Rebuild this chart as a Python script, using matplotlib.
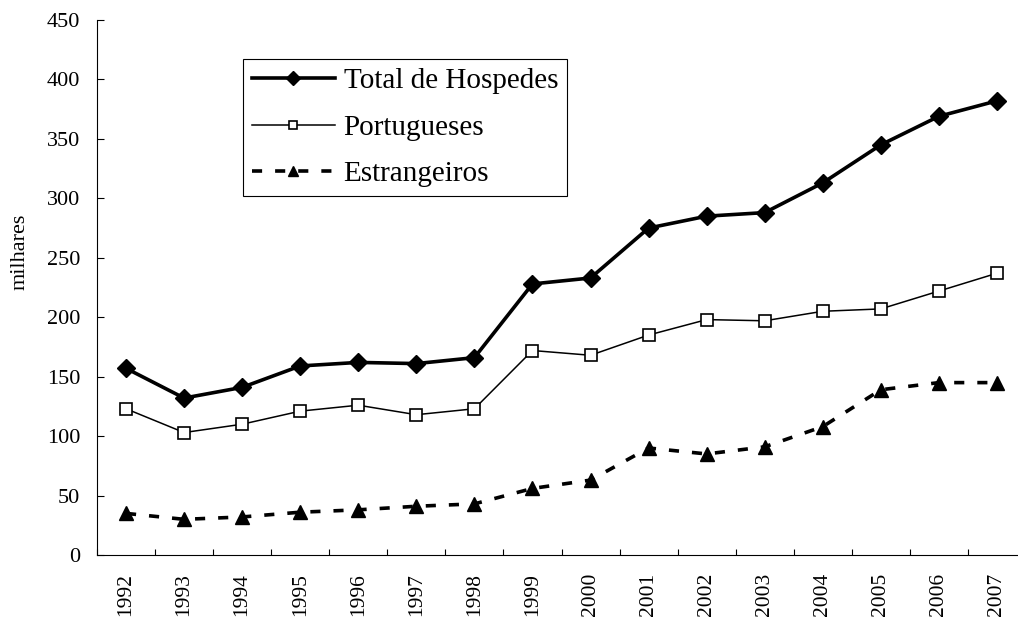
import matplotlib
matplotlib.use("Agg")
import matplotlib.pyplot as plt
import numpy as np

years = ["1992", "1993", "1994", "1995", "1996", "1997", "1998", "1999",
         "2000", "2001", "2002", "2003", "2004", "2005", "2006", "2007"]
total = [157, 132, 141, 159, 162, 161, 166, 228, 233, 275, 285, 288, 313, 345, 369, 382]
portugueses = [123, 103, 110, 121, 126, 118, 123, 172, 168, 185, 198, 197, 205, 207, 222, 237]
estrangeiros = [35, 30, 32, 36, 38, 41, 43, 56, 63, 90, 85, 91, 108, 139, 145, 145]
yticks = [0, 50, 100, 150, 200, 250, 300, 350, 400, 450]

plt.rcParams['font.family'] = ['Liberation Serif', 'DejaVu Serif']

fig = plt.figure(figsize=(10.18, 6.23), dpi=100)
ax = fig.add_axes([97/1018, 1-555/623, 929/1018, 535/623])

x = np.arange(len(years))
ax.plot(x, total, color='black', lw=2.6, marker='D', ms=9, mfc='black', mec='black',
        label='Total de Hospedes')
ax.plot(x, portugueses, color='black', lw=1.1, marker='s', ms=8.5, mfc='white', mec='black',
        mew=1.2, label='Portugueses')
ax.plot(x, estrangeiros, color='black', lw=2.6, dashes=(2.8, 3.6), marker='^', ms=10,
        mfc='black', mec='black', label='Estrangeiros')

ax.set_xlim(-0.5, len(years) - 0.5)
ax.set_ylim(0, 450)
ax.set_yticks(yticks)
ax.set_yticklabels([str(v) for v in yticks])
ax.set_xticks(x)
ax.set_xticklabels(years, rotation=90)
ax.set_xticks(np.arange(-0.5, len(years)), minor=True)

ax.tick_params(axis='x', which='major', length=0, pad=13, labelsize=15.5)
ax.tick_params(axis='x', which='minor', length=4.5, width=0.8, direction='in')
ax.tick_params(axis='y', which='major', length=5, width=0.8, direction='in', pad=12, labelsize=16)

for s in ['top', 'right']:
    ax.spines[s].set_visible(False)
for s in ['left', 'bottom']:
    ax.spines[s].set_linewidth(0.8)

ax.set_ylabel('milhares', fontsize=16)
ax.yaxis.set_label_coords(-0.073, 0.566)

leg = ax.legend(loc='center', bbox_to_anchor=(0.3315, 0.799), fontsize=21,
                frameon=True, fancybox=False, framealpha=1, edgecolor='black',
                handlelength=2.85, handletextpad=0.3, labelspacing=0.69,
                borderpad=0.3, borderaxespad=0, markerscale=0.75)
leg.get_frame().set_linewidth(0.8)

fig.savefig('out.png', dpi=100)
